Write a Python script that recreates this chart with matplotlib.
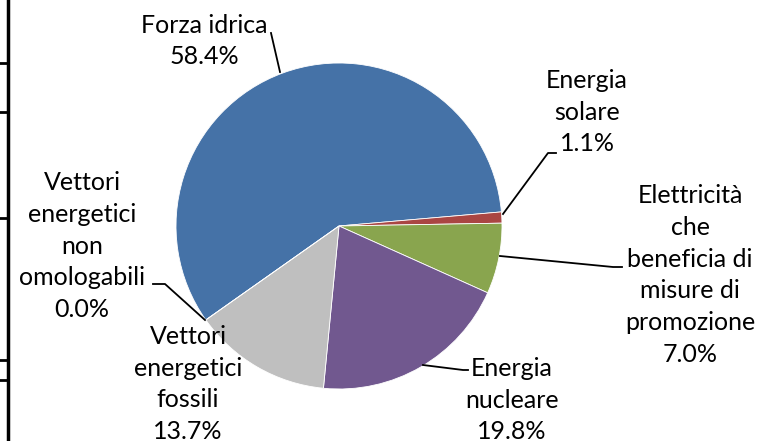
import matplotlib.pyplot as plt

# data
labels = ["Forza idrica", "Energia\nsolare", "Elettricità\nche\nbeneficia di\nmisure di\npromozione",
          "Energia\nnucleare", "Vettori\nenergetici\nfossili", "Vettori\nenergetici\nnon\nomologabili"]
shares = [58.4, 1.1, 7.0, 19.8, 13.7, 0.0]
colors = ["#4572A7", "#AA4643", "#89A54E", "#71588F", "#BFBFBF", "#7F7F7F"]

W, H = 760, 441
plt.rcParams['font.family'] = ['Lato', 'DejaVu Sans']

fig = plt.figure(figsize=(W / 100, H / 100), dpi=100)
ax = fig.add_axes([0, 0, 1, 1])

# pie center / radius in pixels (y from top)
cx, cy, r = 339, 226, 163
ax.pie(shares, colors=colors, startangle=215.2, counterclock=False,
       center=(cx, H - cy), radius=r, frame=True,
       wedgeprops=dict(edgecolor='white', linewidth=0.6))
ax.set_xlim(0, W)
ax.set_ylim(0, H)
ax.set_aspect('auto')
ax.axis('off')

# label boxes (center x, center y from top)
label_pos = [(204, 41), (587, 112), (690, 275), (512, 400), (188, 384), (82, 246)]
for lab, val, (x, y) in zip(labels, shares, label_pos):
    ax.text(x, H - y, "%s\n%.1f%%" % (lab, val), ha='center', va='center',
            fontsize=18, linespacing=1.47, color='black')

# leader lines
leaders = [
    [(271, 33), (280, 72)],
    [(503, 214), (548, 153), (556, 153)],
    [(500, 256), (613, 267), (622, 267)],
    [(423, 365), (463, 370), (468, 370)],
    [(153, 284), (165, 284), (205, 320)],
]
for pts in leaders:
    ax.plot([p[0] for p in pts], [H - p[1] for p in pts], color='black', lw=1.3)

# cropped table border on the left edge
ax.plot([8, 8], [0, H], color='black', lw=2.5)
for yy in [63, 112, 218, 360, 380]:
    ax.plot([0, 8], [H - yy, H - yy], color='black', lw=2)

fig.savefig("out.png", dpi=100)
